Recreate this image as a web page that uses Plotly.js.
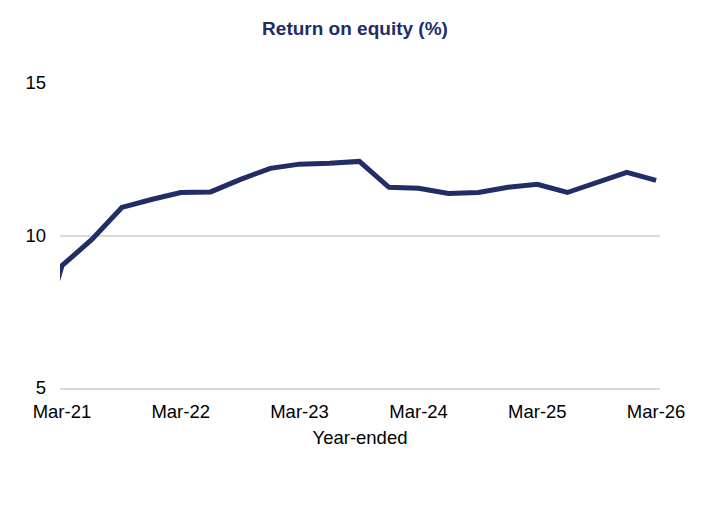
<!DOCTYPE html>
<html>
<head>
<meta charset="utf-8">
<script src="https://cdn.plot.ly/plotly-3.0.1.min.js"></script>
<style>html,body{margin:0;padding:0;background:#fff;}#chart{width:710px;height:515px;}</style>
</head>
<body>
<div id="chart"></div>
<script>
const quarters = ['2020-12-01','2021-03-01','2021-06-01','2021-09-01','2021-12-01',
  '2022-03-01','2022-06-01','2022-09-01','2022-12-01',
  '2023-03-01','2023-06-01','2023-09-01','2023-12-01',
  '2024-03-01','2024-06-01','2024-09-01','2024-12-01',
  '2025-03-01','2025-06-01','2025-09-01','2025-12-01','2026-03-01'];
const roe = [5.7, 9.01, 9.87, 10.92, 11.18,
  11.41, 11.43, 11.84, 12.20,
  12.34, 12.37, 12.43, 11.58,
  11.55, 11.38, 11.41, 11.58,
  11.68, 11.41, 11.74, 12.07, 11.81];
const tickVals = ['2021-03-01','2022-03-01','2023-03-01','2024-03-01','2025-03-01','2026-03-01'];
const tickText = ['Mar-21','Mar-22','Mar-23','Mar-24','Mar-25','Mar-26'];
const yTicks = [5, 10, 15];

const trace = {
  x: quarters, y: roe, type: 'scatter', mode: 'lines',
  line: {color: '#222d65', width: 5},
  hoverinfo: 'skip'
};
const layout = {
  width: 710, height: 515,
  margin: {l: 60, r: 50, t: 83, b: 127},
  paper_bgcolor: '#fff', plot_bgcolor: '#fff',
  showlegend: false,
  font: {family: 'Liberation Sans, Arial, sans-serif', size: 18.5, color: '#000'},
  title: {text: '<b>Return on equity (%)</b>', x: 0.5, xanchor: 'center', y: 0.945, yanchor: 'middle',
    font: {family: 'Liberation Sans, Arial, sans-serif', size: 19, color: '#222d65'}},
  xaxis: {
    type: 'date', range: ['2021-02-23', '2026-03-13'],
    tickvals: tickVals, ticktext: tickText,
    showgrid: false, zeroline: false,
    showline: true, linecolor: '#d9d9d9', linewidth: 2,
    ticks: '',
    ticklabelstandoff: 6,
    tickfont: {size: 18.5, color: '#000'},
    title: {text: 'Year-ended', font: {size: 18.5, color: '#000'}, standoff: 10}
  },
  yaxis: {
    range: [5, 15], tickvals: yTicks,
    showgrid: true, gridcolor: '#d9d9d9', gridwidth: 2,
    zeroline: false, showline: false, ticks: '',
    ticklabelstandoff: 13,
    tickfont: {size: 18.5, color: '#000'}
  }
};
Plotly.newPlot('chart', [trace], layout, {displayModeBar: false, staticPlot: true});
</script>
</body>
</html>
